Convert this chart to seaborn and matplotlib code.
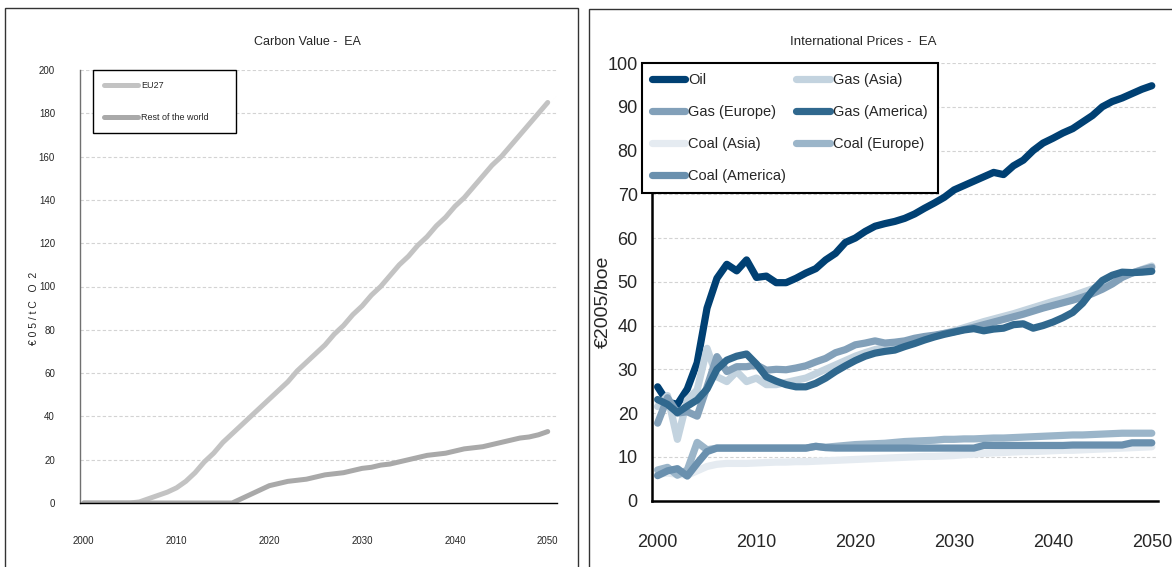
import matplotlib
matplotlib.use("Agg")
import matplotlib.pyplot as plt
from matplotlib.patches import Rectangle
import pandas as pd
import seaborn as sns

sns.set_style("white")
plt.rcParams["font.family"] = ["Liberation Sans", "DejaVu Sans"]

# ---------------------------------------------------------------- data
years = list(range(2000, 2051))

# Carbon value, EUR2005 per tonne CO2
eu27 = [0, 0, 0, 0, 0, 0, 0.5, 2, 3.5, 5,
        7, 10, 14, 19, 23, 28, 32, 36, 40, 44,
        48, 52, 56, 61, 65, 69, 73, 78, 82, 87,
        91, 96, 100, 105, 110, 114, 119, 123, 128, 132,
        137, 141, 146, 151, 156, 160, 165, 170, 175, 180,
        185]
rest_of_world = [0, 0, 0, 0, 0, 0, 0, 0, 0, 0,
                 0, 0, 0, 0, 0, 0, 0, 2, 4, 6,
                 8, 9, 10, 10.5, 11, 12, 13, 13.5, 14, 15,
                 16, 16.5, 17.5, 18, 19, 20, 21, 22, 22.5, 23,
                 24, 25, 25.5, 26, 27, 28, 29, 30, 30.5, 31.5,
                 33]
carbon_series = ["EU27", "Rest of the world"]

# International fuel prices, EUR2005 per boe
oil = [26, 22.5, 22, 25.5, 31.5, 44, 50.8, 54, 52.5, 55,
       51, 51.3, 49.8, 49.8, 50.8, 52, 53, 55, 56.5, 59,
       60, 61.5, 62.7, 63.3, 63.8, 64.5, 65.5, 66.8, 68, 69.3,
       71, 72, 73, 74, 75, 74.5, 76.5, 77.8, 80, 81.7,
       82.8, 84, 85, 86.5, 88, 90, 91.2, 92, 93, 94,
       94.8]
gas_asia = [21.5, 24.0, 14.0, 23.0, 25.3, 34.8, 28.3, 27.2, 29.5, 27.2,
            28.0, 26.5, 26.5, 27.0, 27.5, 28.0, 29.0, 30.0, 31.0, 32.0,
            33.0, 33.8, 34.5, 35.0, 35.4, 35.8, 36.4, 37.0, 37.6, 38.2,
            38.8, 39.5, 40.2, 40.9, 41.5, 42.1, 42.7, 43.4, 44.1, 44.8,
            45.5, 46.1, 46.8, 47.6, 48.4, 49.3, 50.3, 51.2, 52.0, 52.8,
            53.6]
gas_europe = [17.7, 23.5, 20.0, 20.3, 19.3, 26.0, 32.9, 29.5, 30.6, 30.6,
              31.0, 29.8, 30.0, 29.9, 30.3, 30.8, 31.7, 32.5, 33.8, 34.5,
              35.6, 36.0, 36.5, 36.0, 36.2, 36.5, 37.1, 37.5, 37.8, 38.2,
              38.6, 39.1, 39.6, 40.2, 40.8, 41.4, 42.0, 42.6, 43.3, 44.0,
              44.6, 45.2, 45.8, 46.5, 47.3, 48.3, 49.5, 51.0, 52.0, 52.7,
              53.3]
gas_america = [23.1, 22.0, 20.1, 21.6, 23.0, 25.5, 30.0, 32.1, 33.0, 33.5,
               31.2, 28.3, 27.3, 26.5, 26.0, 26.0, 26.8, 28.0, 29.5, 30.8,
               32.0, 33.0, 33.7, 34.1, 34.4, 35.2, 35.9, 36.7, 37.4, 38.0,
               38.5, 39.0, 39.3, 38.8, 39.2, 39.4, 40.2, 40.4, 39.4, 40.0,
               40.8, 41.8, 43.0, 45.1, 48.0, 50.3, 51.5, 52.2, 52.1, 52.2,
               52.4]
coal_asia = [6.0, 6.3, 6.0, 5.8, 6.8, 7.8, 8.3, 8.5, 8.5, 8.5,
             8.6, 8.7, 8.8, 8.8, 8.9, 8.9, 9.0, 9.1, 9.2, 9.3,
             9.4, 9.5, 9.6, 9.7, 9.8, 9.9, 10.0, 10.1, 10.1, 10.2,
             10.3, 10.5, 10.6, 10.8, 10.9, 11.0, 11.1, 11.2, 11.2, 11.3,
             11.4, 11.5, 11.5, 11.6, 11.7, 11.8, 11.9, 12.0, 12.1, 12.2,
             12.3]
coal_europe = [7.0, 7.6, 5.8, 7.0, 13.3, 11.6, 12.0, 12.0, 12.0, 12.0,
               12.0, 12.0, 12.0, 12.0, 12.0, 12.0, 12.4, 12.2, 12.4, 12.6,
               12.8, 12.9, 13.0, 13.1, 13.3, 13.5, 13.6, 13.7, 13.8, 14.0,
               14.0, 14.1, 14.1, 14.2, 14.3, 14.3, 14.4, 14.5, 14.6, 14.7,
               14.8, 14.9, 15.0, 15.0, 15.1, 15.2, 15.3, 15.4, 15.4, 15.4,
               15.4]
coal_america = [5.7, 6.8, 7.3, 5.6, 8.5, 11.2, 12.0, 12.0, 12.0, 12.0,
                12.0, 12.0, 12.0, 12.0, 12.0, 12.0, 12.4, 12.1, 12.0, 12.0,
                12.0, 12.0, 12.0, 12.0, 12.0, 12.0, 12.0, 12.0, 12.0, 12.0,
                12.0, 12.0, 12.0, 12.6, 12.6, 12.6, 12.6, 12.6, 12.6, 12.6,
                12.6, 12.6, 12.7, 12.7, 12.7, 12.7, 12.7, 12.7, 13.2, 13.2,
                13.2]
price_series = ["Oil", "Gas (Asia)", "Gas (Europe)", "Gas (America)",
                "Coal (Asia)", "Coal (Europe)", "Coal (America)"]

carbon_values = [eu27, rest_of_world]
price_values = [oil, gas_asia, gas_europe, gas_america,
                coal_asia, coal_europe, coal_america]

carbon_colors = {"EU27": "#c3c3c3", "Rest of the world": "#a9a9a9"}
price_colors = {"Oil": "#004073", "Gas (Asia)": "#c3d3df",
                "Gas (Europe)": "#82a0b9", "Gas (America)": "#30688e",
                "Coal (Asia)": "#e5ebf1", "Coal (Europe)": "#9bb5c9",
                "Coal (America)": "#6a90ae"}


def long_frame(names, values):
    rows = []
    for name, vals in zip(names, values):
        for yr, v in zip(years, vals):
            rows.append({"year": yr, "value": v, "series": name})
    return pd.DataFrame(rows)


carbon_df = long_frame(carbon_series, carbon_values)
price_df = long_frame(price_series, price_values)

# ---------------------------------------------------------------- figure
fig = plt.figure(figsize=(11.72, 5.67), dpi=100)

# panel frames
fig.patches.append(Rectangle((5 / 1172, -0.05), 573 / 1172, 1 - 8 / 567 + 0.05,
                             transform=fig.transFigure, fill=False,
                             edgecolor="#333333", linewidth=1.0))
fig.patches.append(Rectangle((589 / 1172, -0.05), 0.6, 1 - 9 / 567 + 0.05,
                             transform=fig.transFigure, fill=False,
                             edgecolor="#333333", linewidth=1.0))

grid_kw = dict(linestyle=(0, (3, 2)), color="#d3d3d3", linewidth=0.8)

# ---------------- left: carbon value
ax1 = fig.add_axes([80 / 1172, 1 - 503 / 567, 477 / 1172, 433 / 567])
sns.lineplot(data=carbon_df, x="year", y="value", hue="series",
             hue_order=carbon_series, palette=carbon_colors, linewidth=3.6,
             estimator=None, legend=False, ax=ax1)
for ln in ax1.lines:
    ln.set_solid_capstyle("round")
ax1.set_xlim(1999.6, 2051)
ax1.set_ylim(0, 200)
ax1.set_xticks(range(2000, 2051, 10))
ax1.set_yticks(range(0, 201, 20))
ax1.set_xlabel("")
ax1.set_ylabel("€ 0 5 / t C   O  2", fontsize=7.5)
ax1.yaxis.set_label_coords(-0.087, 0.45)
for t in ax1.get_yticks()[1:]:
    ax1.axhline(t, zorder=0, **grid_kw)
for s in ["top", "right"]:
    ax1.spines[s].set_visible(False)
ax1.spines["left"].set_color("#707070")
ax1.spines["bottom"].set_color("#000000")
ax1.spines["left"].set_linewidth(1.0)
ax1.spines["bottom"].set_linewidth(1.0)
ax1.tick_params(axis="y", direction="out", length=4, width=1, color="#707070",
                labelsize=7, pad=14)
ax1.tick_params(axis="x", direction="out", length=4, width=1, color="#000000",
                labelsize=7, pad=20)
leg1 = ax1.legend(ax1.lines, carbon_series, loc="upper left", mode="expand",
                  bbox_to_anchor=(0.028, 0.8, 0.30, 0.2), borderaxespad=0,
                  fontsize=6.5, frameon=True, fancybox=False, framealpha=1,
                  edgecolor="#000000", handlelength=3.8, handletextpad=0.3,
                  labelspacing=2.6, borderpad=1.2)
leg1.get_frame().set_linewidth(1.0)
fig.text(307 / 1172, 1 - 42 / 567, "Carbon Value -  EA", ha="center", va="center",
         fontsize=9)

# ---------------- right: international prices
ax2 = fig.add_axes([651.7 / 1172, 1 - 500.6 / 567, 506 / 1172, 437.6 / 567])
sns.lineplot(data=price_df, x="year", y="value", hue="series",
             hue_order=price_series, palette=price_colors, linewidth=5.2,
             estimator=None, legend=False, ax=ax2)
for ln in ax2.lines:
    ln.set_solid_capstyle("round")
ax2.set_xlim(1999.4, 2050.6)
ax2.set_ylim(0, 100)
ax2.set_xticks(range(2000, 2051, 10))
ax2.set_yticks(range(0, 101, 10))
ax2.set_xlabel("")
ax2.set_ylabel("€2005/boe", fontsize=14)
ax2.yaxis.set_label_coords(-0.078, 0.455)
for t in ax2.get_yticks()[1:]:
    ax2.axhline(t, zorder=0, **grid_kw)
for s in ["top", "right"]:
    ax2.spines[s].set_visible(False)
for s in ["left", "bottom"]:
    ax2.spines[s].set_color("#000000")
    ax2.spines[s].set_linewidth(1.8)
ax2.tick_params(axis="y", direction="out", length=4, width=1.5, labelsize=13, pad=6)
ax2.tick_params(axis="x", direction="out", length=5, width=1.5, labelsize=13, pad=19)

handles = dict(zip(price_series, ax2.lines))
leg_order = ["Oil", "Gas (Europe)", "Coal (Asia)", "Coal (America)",
             "Gas (Asia)", "Gas (America)", "Coal (Europe)"]
leg2 = ax2.legend([handles[n] for n in leg_order], leg_order, ncol=2,
                  loc="upper left", mode="expand",
                  bbox_to_anchor=(-0.02, 0.7, 0.585, 0.3), borderaxespad=0,
                  fontsize=10.5, frameon=True, fancybox=False, framealpha=1,
                  edgecolor="#000000", handlelength=2.3, handletextpad=0.2,
                  labelspacing=1.23, borderpad=0.7, columnspacing=1.0)
leg2.get_frame().set_linewidth(1.5)
fig.text(863 / 1172, 1 - 42 / 567, "International Prices -  EA", ha="center",
         va="center", fontsize=9.5)

fig.savefig("out.png", dpi=100)
